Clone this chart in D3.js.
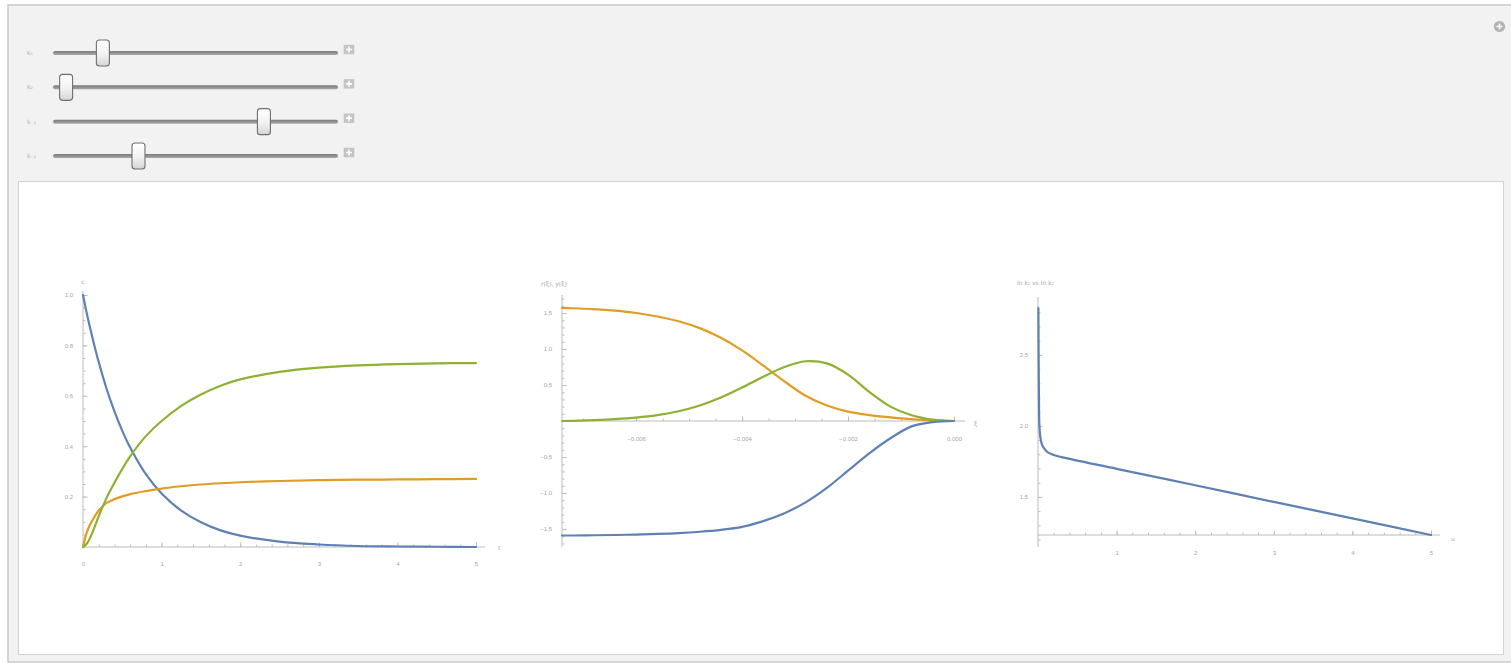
<!DOCTYPE html>
<html>
<head>
<meta charset="utf-8">
<script src="https://cdn.jsdelivr.net/npm/d3@7"></script>
<style>
  html, body { margin: 0; padding: 0; background: #fff; overflow: hidden; }
  svg { display: block; font-family: "DejaVu Sans", "Liberation Sans", sans-serif; }
</style>
</head>
<body>
<svg id="chart" width="1511" height="663"></svg>
<script>
// ---- control values (rate constants) ----
const sliderNames = ["k₁", "k₂", "k₋₁", "k₋₂"];
const sliderValues = [0.175, 0.046, 0.74, 0.30];

// ---- panel 1: concentrations against time ----
const t1 = [0, 0.05, 0.1, 0.15, 0.2, 0.3, 0.4, 0.5, 0.6, 0.8, 1.0, 1.25, 1.5, 1.75, 2.0, 2.5, 3.0, 3.5, 4.0, 4.5, 5.0];
const conc1A = [1.0, 0.925, 0.857, 0.793, 0.734, 0.628, 0.538, 0.461, 0.395, 0.289, 0.212, 0.144, 0.098, 0.066, 0.045, 0.021, 0.010, 0.004, 0.002, 0.001, 0.0];
const conc1B = [0, 0.06, 0.095, 0.122, 0.145, 0.175, 0.19, 0.201, 0.21, 0.222, 0.232, 0.241, 0.248, 0.253, 0.257, 0.262, 0.265, 0.267, 0.268, 0.269, 0.27];
const conc1C = [0, 0.014, 0.043, 0.082, 0.122, 0.195, 0.255, 0.31, 0.36, 0.44, 0.50, 0.56, 0.605, 0.64, 0.665, 0.695, 0.712, 0.721, 0.726, 0.729, 0.73];
const t1Ticks = [0, 1, 2, 3, 4, 5];
const c1Ticks = [0.2, 0.4, 0.6, 0.8, 1.0];

// ---- panel 2: rates against the reaction coordinate ----
const s2 = [-0.0074, -0.0072, -0.0068, -0.0064, -0.006, -0.0056, -0.0052, -0.0048, -0.0044, -0.004, -0.0036, -0.0032, -0.0028, -0.0024, -0.002, -0.0016, -0.0012, -0.0008, -0.0004, 0];
const rate2A = [-1.59, -1.59, -1.587, -1.583, -1.577, -1.568, -1.556, -1.538, -1.512, -1.47, -1.39, -1.28, -1.13, -0.93, -0.69, -0.45, -0.24, -0.075, -0.015, 0];
const rate2B = [1.57, 1.566, 1.553, 1.532, 1.5, 1.452, 1.385, 1.29, 1.155, 0.98, 0.77, 0.55, 0.35, 0.215, 0.13, 0.082, 0.051, 0.027, 0.009, 0];
const rate2C = [0, 0.003, 0.013, 0.027, 0.048, 0.082, 0.135, 0.215, 0.325, 0.465, 0.615, 0.75, 0.83, 0.8, 0.645, 0.405, 0.2, 0.08, 0.02, 0];
const s2Ticks = [-0.006, -0.004, -0.002, 0];
const r2Ticks = [-1.5, -1.0, -0.5, 0.5, 1.0, 1.5];

// ---- panel 3: trajectory ----
const u3 = [0.005, 0.008, 0.012, 0.018, 0.03, 0.05, 0.08, 0.12, 0.2, 0.3, 1, 2, 3, 4, 5];
const v3 = [2.83, 2.5, 2.2, 2.0, 1.92, 1.87, 1.84, 1.815, 1.795, 1.78, 1.698, 1.582, 1.465, 1.349, 1.232];
const u3Ticks = [1, 2, 3, 4, 5];
const v3Ticks = [1.5, 2.0, 2.5];

const COLORS = { a: "#5e81b5", b: "#e19c24", c: "#8fb032" };
const AXIS = "#bcbcbc";
const LABEL = "#a6a6a6";

const svg = d3.select("#chart");

// ---- frame ----
svg.append("rect").attr("x", 8).attr("y", 5).attr("width", 1512).attr("height", 657)
  .attr("fill", "#f2f2f2").attr("stroke", "#c8c8c8").attr("stroke-width", 1.5);
svg.append("rect").attr("x", 18.5).attr("y", 181.5).attr("width", 1485).attr("height", 473)
  .attr("fill", "#ffffff").attr("stroke", "#d3d3d3").attr("stroke-width", 1);

// top-right add button
const addBtn = svg.append("g").attr("transform", "translate(1499.5,26.5)");
addBtn.append("circle").attr("r", 5.6).attr("fill", "#b3b3b3");
addBtn.append("path").attr("d", "M-3,0H3M0,-3V3").attr("stroke", "#fff").attr("stroke-width", 1.6);

// ---- sliders ----
const defs = svg.append("defs");
const tg = defs.append("linearGradient").attr("id", "thumb").attr("x1", 0).attr("y1", 0).attr("x2", 0).attr("y2", 1);
tg.append("stop").attr("offset", "0%").attr("stop-color", "#ffffff");
tg.append("stop").attr("offset", "55%").attr("stop-color", "#f1f1f1");
tg.append("stop").attr("offset", "100%").attr("stop-color", "#d6d6d6");
const trg = defs.append("linearGradient").attr("id", "track").attr("x1", 0).attr("y1", 0).attr("x2", 0).attr("y2", 1);
trg.append("stop").attr("offset", "0%").attr("stop-color", "#7a7a7a");
trg.append("stop").attr("offset", "100%").attr("stop-color", "#a8a8a8");

const sx = d3.scaleLinear().domain([0, 1]).range([53, 338]);
const sy = d3.scalePoint().domain(sliderNames).range([53, 156]);

const rows = svg.append("g").selectAll("g").data(sliderNames).join("g")
  .attr("transform", d => `translate(0,${sy(d)})`);
rows.append("text").attr("x", 27).attr("y", 2).attr("font-size", 6).attr("fill", "#b0b0b0").text(d => d);
rows.append("rect").attr("x", sx(0)).attr("y", -2).attr("width", sx(1) - sx(0)).attr("height", 4)
  .attr("rx", 2).attr("fill", "url(#track)");
rows.append("rect").attr("x", (d, i) => sx(sliderValues[i]) - 6.5).attr("y", -13)
  .attr("width", 13).attr("height", 26).attr("rx", 3)
  .attr("fill", "url(#thumb)").attr("stroke", "#6f6f6f").attr("stroke-width", 1.1);
const plus = rows.append("g").attr("transform", "translate(349,-3.5)");
plus.append("rect").attr("x", -5.3).attr("y", -4.7).attr("width", 10.6).attr("height", 9.4).attr("fill", "#c4c4c4");
plus.append("path").attr("d", "M-3,0H3M0,-3V3").attr("stroke", "#fff").attr("stroke-width", 1.6);

// ---- axis helper (ticks point into the plot) ----
function drawAxes(g, o) {
  const { x, y, xAt, yAt, xMajor, xMinor, yMajor, yMinor, xFmt, yFmt, xLine, yLine } = o;
  const ax = g.append("g").attr("color", AXIS);
  ax.append("line").attr("x1", xLine[0]).attr("x2", xLine[1]).attr("y1", y(yAt)).attr("y2", y(yAt))
    .attr("stroke", AXIS).attr("stroke-width", 1);
  ax.append("line").attr("x1", x(xAt)).attr("x2", x(xAt)).attr("y1", yLine[0]).attr("y2", yLine[1])
    .attr("stroke", AXIS).attr("stroke-width", 1);

  const style = sel => {
    sel.select(".domain").remove();
    sel.selectAll("line").attr("stroke", AXIS);
    sel.selectAll("text").attr("fill", LABEL).attr("font-size", 6);
  };
  ax.append("g").attr("transform", `translate(0,${y(yAt)})`)
    .call(d3.axisBottom(x).tickValues(xMinor).tickSizeInner(-2.5).tickSizeOuter(0).tickFormat(""))
    .call(style);
  ax.append("g").attr("transform", `translate(0,${y(yAt)})`)
    .call(d3.axisBottom(x).tickValues(xMajor).tickSizeInner(-4.5).tickSizeOuter(0).tickPadding(o.xPad).tickFormat(xFmt))
    .call(style);
  ax.append("g").attr("transform", `translate(${x(xAt)},0)`)
    .call(d3.axisLeft(y).tickValues(yMinor).tickSizeInner(-2.5).tickSizeOuter(0).tickFormat(""))
    .call(style);
  ax.append("g").attr("transform", `translate(${x(xAt)},0)`)
    .call(d3.axisLeft(y).tickValues(yMajor).tickSizeInner(-4.5).tickSizeOuter(0).tickPadding(o.yPad).tickFormat(yFmt))
    .call(style);
  return ax;
}

function drawSeries(g, xs, ys, x, y, color, curve) {
  const pts = xs.map((d, i) => [d, ys[i]]);
  g.append("path").datum(pts)
    .attr("fill", "none").attr("stroke", color).attr("stroke-width", 2.2)
    .attr("stroke-linejoin", "round").attr("stroke-linecap", "round")
    .attr("d", d3.line().x(d => x(d[0])).y(d => y(d[1])).curve(curve));
}

function axisLabel(g, px, py, txt, anchor) {
  g.append("text").attr("x", px).attr("y", py).attr("font-size", 6).attr("fill", LABEL)
    .attr("text-anchor", anchor || "start").text(txt);
}

// ---- panel 1 ----
{
  const x = d3.scaleLinear().domain([0, 5]).range([83, 476]);
  const y = d3.scaleLinear().domain([0, 1]).range([547, 295]);
  const g = svg.append("g");
  drawAxes(g, {
    x, y, xAt: 0, yAt: 0,
    xMajor: t1Ticks, xMinor: d3.range(0, 26).map(i => i / 5),
    yMajor: c1Ticks, yMinor: d3.range(1, 21).map(i => i / 20),
    xFmt: d3.format("d"), yFmt: d3.format(".1f"), xPad: 15, yPad: 10,
    xLine: [x(0), x(5) + 9], yLine: [y(0), y(1) - 4]
  });
  axisLabel(g, x(0), 284, "c", "middle");
  axisLabel(g, x(5) + 22, y(0) + 3, "t");
  const curve = d3.curveCatmullRom.alpha(0.5);
  drawSeries(g, t1, conc1A, x, y, COLORS.a, curve);
  drawSeries(g, t1, conc1B, x, y, COLORS.b, curve);
  drawSeries(g, t1, conc1C, x, y, COLORS.c, curve);
}

// ---- panel 2 ----
{
  const x = d3.scaleLinear().domain([-0.0074, 0]).range([562, 954]);
  const y = d3.scaleLinear().domain([-1.75, 1.75]).range([547, 295]);
  const g = svg.append("g");
  drawAxes(g, {
    x, y, xAt: -0.0074, yAt: 0,
    xMajor: s2Ticks, xMinor: d3.range(-14, 1).map(i => i * 0.0005),
    yMajor: r2Ticks, yMinor: d3.range(-17, 18).map(i => i / 10),
    xFmt: d3.format(".3f"), yFmt: d3.format(".1f"), xPad: 16, yPad: 10,
    xLine: [x(-0.0074), x(0) + 11], yLine: [y(-1.75), y(1.75)]
  });
  axisLabel(g, 541, 286, "r(ξ), y(ξ)");
  axisLabel(g, x(0) + 20, y(0) + 5, "ξ");
  const curve = d3.curveCatmullRom.alpha(0.5);
  drawSeries(g, s2, rate2B, x, y, COLORS.b, curve);
  drawSeries(g, s2, rate2C, x, y, COLORS.c, curve);
  drawSeries(g, s2, rate2A, x, y, COLORS.a, curve);
}

// ---- panel 3 ----
{
  const x = d3.scaleLinear().domain([0, 5]).range([1038, 1431]);
  const y = d3.scaleLinear().domain([1.232, 2.83]).range([535, 308]);
  const g = svg.append("g");
  drawAxes(g, {
    x, y, xAt: 0, yAt: 1.232,
    xMajor: u3Ticks, xMinor: d3.range(1, 26).map(i => i / 5),
    yMajor: v3Ticks, yMinor: d3.range(12, 29).map(i => i / 10),
    xFmt: d3.format("d"), yFmt: d3.format(".1f"), xPad: 16, yPad: 10,
    xLine: [x(0), x(5) + 9], yLine: [y(1.232) + 12, y(2.83) - 11]
  });
  axisLabel(g, 1017, 285, "ln k₁ vs ln k₂");
  axisLabel(g, x(5) + 20, y(1.232) + 6, "u");
  drawSeries(g, u3, v3, x, y, COLORS.a, d3.curveCatmullRom.alpha(0.5));
}
</script>
</body>
</html>
